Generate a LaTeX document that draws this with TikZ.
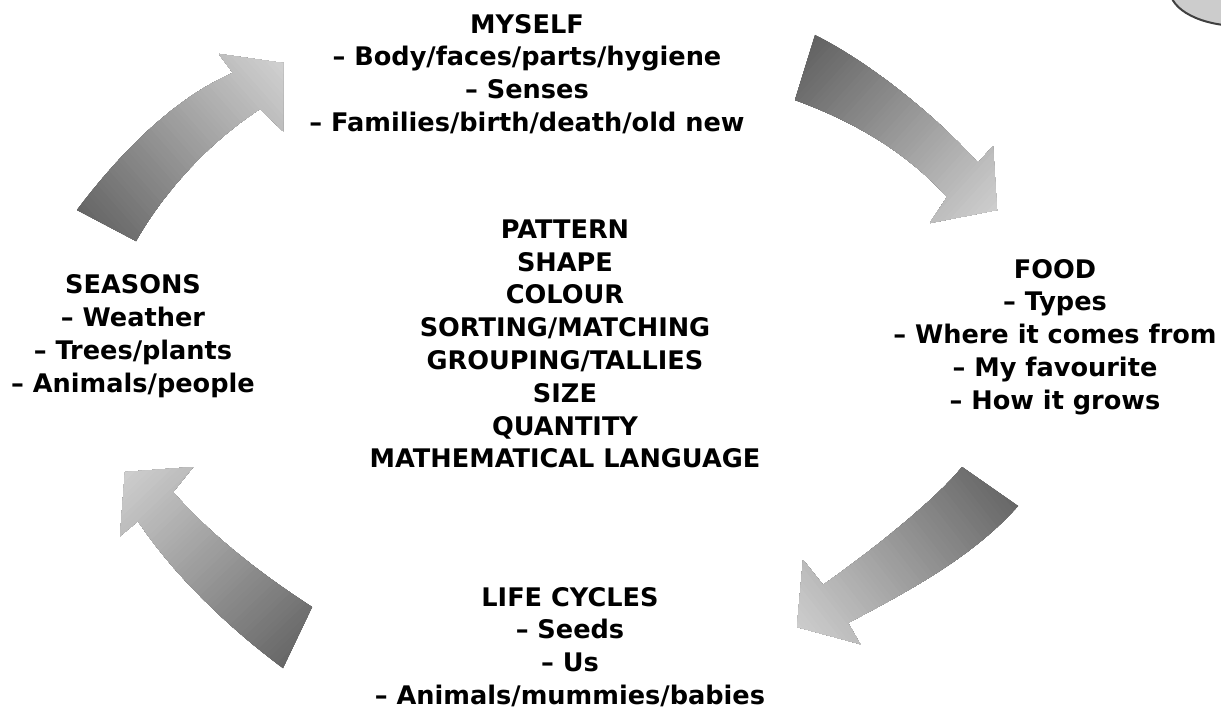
\documentclass[tikz,border=0pt]{standalone}
\usepackage{fontspec}
\setmainfont{DejaVu Sans}

\definecolor{arrowdark}{RGB}{94,94,94}
\definecolor{arrowlight}{RGB}{208,208,208}
\tikzset{every picture/.style={line width=0.75pt}}
\tikzset{topic/.style={align=center,font=\fontsize{19.2}{24.6}\selectfont\bfseries}}
% grey ramp along a curved arrow: #1 outline, #2 tail point, #3 angle, #4 length
\newcommand{\rampfill}[4]{%
  \begin{scope}
    \clip #1;
    \fill [arrowdark] #1;
    \begin{scope}[shift={#2},rotate=#3]
      \foreach \i [evaluate=\i as \p using int(100-\i*100/59)] in {0,...,59}
        \fill [arrowdark!\p!arrowlight] ({\i/60*#4},-400) rectangle ({#4+400},400);
    \end{scope}
  \end{scope}}

\begin{document}
\begin{tikzpicture}[x=0.75pt,y=0.75pt,yscale=-1,xscale=1]
\useasboundingbox (0,0) rectangle (1221,710);

%Shape: Ellipse [id:corner]
\draw [color={rgb, 255:red, 64; green, 64; blue, 64 }, fill={rgb, 255:red, 204; green, 204; blue, 204 }, line width=1.5] (1240,-10) ellipse (70 and 36);

%Shape: Curved Arrow [id:seasons to myself]
\rampfill{(77,210) .. controls (115,160) and (170,100) .. (233,73) -- (219,54) -- (283,63) -- (283,131) -- (260,109) .. controls (215,138) and (168,185) .. (136,241) -- cycle}{(80,240)}{-41.6}{271}
%Shape: Curved Arrow [id:myself to food]
\rampfill{(815,35) .. controls (868,62) and (932,112) .. (978,163) -- (993,146) -- (997,210) -- (930,223) -- (947,197) .. controls (905,150) and (850,120) .. (795,100) -- cycle}{(800,40)}{42.4}{267}
%Shape: Curved Arrow [id:food to lifecycles]
\rampfill{(962,467) .. controls (940,495) and (880,545) .. (823,585) -- (803,560) -- (797,627) -- (860,644) -- (848,623) .. controls (900,595) and (970,560) .. (1018,506) -- cycle}{(1018,470)}{141.8}{281}
%Shape: Curved Arrow [id:lifecycles to seasons]
\rampfill{(312,607) .. controls (270,580) and (215,540) .. (173,492) -- (193,467) -- (125,472) -- (120,536) -- (138,521) .. controls (170,570) and (225,625) .. (283,668) -- cycle}{(312,668)}{-133.7}{278}

% Text Node
\draw (527,74) node (myself) [topic] {MYSELF\\– Body/faces/parts/hygiene\\– Senses\\– Families/birth/death/old new};
% Text Node
\draw (1055,337) node (food) [topic] {FOOD\\– Types\\– Where it comes from\\– My favourite\\– How it grows};
% Text Node
\draw (570,647) node (lifecycles) [topic] {LIFE CYCLES\\– Seeds\\– Us\\– Animals/mummies/babies};
% Text Node
\draw (133,336) node (seasons) [topic] {SEASONS\\– Weather\\– Trees/plants\\– Animals/people};
% Text Node
\draw (565,344) node (maths) [topic] {PATTERN\\SHAPE\\COLOUR\\SORTING/MATCHING\\GROUPING/TALLIES\\SIZE\\QUANTITY\\MATHEMATICAL LANGUAGE};

\end{tikzpicture}
\end{document}
